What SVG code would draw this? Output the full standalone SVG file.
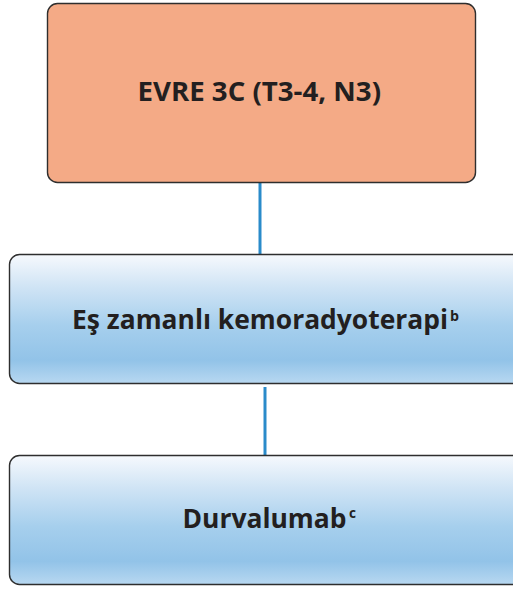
<svg xmlns="http://www.w3.org/2000/svg" width="513" height="590" viewBox="0 0 513 590">
  <defs>
    <linearGradient id="blueFill" x1="0" y1="0" x2="0" y2="1">
      <stop offset="0" stop-color="#f6f9fd"/>
      <stop offset="0.25" stop-color="#d0e4f5"/>
      <stop offset="0.55" stop-color="#a6cfed"/>
      <stop offset="0.82" stop-color="#92c3e8"/>
      <stop offset="1" stop-color="#b8d8f1"/>
    </linearGradient>
    <style>
      .box { stroke: #2e2e2e; stroke-width: 1.4; }
      .label { font-family: "Open Sans", "Noto Sans", sans-serif; font-weight: 700; fill: #231f20; font-size: 26px; }
      .big { font-size: 27px; }
      .sup { font-size: 15px; }
      .link { stroke: #2a8bca; stroke-width: 3; fill: none; }
    </style>
  </defs>

  <g id="connectors">
    <line class="link" x1="260" y1="183" x2="260" y2="254"/>
    <line class="link" x1="265" y1="387" x2="265" y2="455"/>
  </g>

  <g id="stage">
    <rect class="box" x="47.5" y="3.5" width="428" height="179" rx="10" fill="#f4aa86"/>
    <text class="label big" x="137.5" y="101" textLength="243.5" lengthAdjust="spacingAndGlyphs">EVRE 3C (T3-4, N3)</text>
  </g>

  <g id="chemoradiotherapy">
    <rect class="box" x="9.5" y="254.5" width="520" height="129" rx="10" fill="url(#blueFill)"/>
    <text class="label" x="72" y="328.5"><tspan textLength="376" lengthAdjust="spacingAndGlyphs">Eş zamanlı kemoradyoterapi</tspan><tspan class="sup" x="450" y="321" textLength="9" lengthAdjust="spacingAndGlyphs">b</tspan></text>
  </g>

  <g id="durvalumab">
    <rect class="box" x="9.5" y="455.5" width="520" height="129" rx="10" fill="url(#blueFill)"/>
    <text class="label" x="182.5" y="527.5"><tspan textLength="164" lengthAdjust="spacingAndGlyphs">Durvalumab</tspan><tspan class="sup" x="349" y="517.5" textLength="7" lengthAdjust="spacingAndGlyphs">c</tspan></text>
  </g>
</svg>
